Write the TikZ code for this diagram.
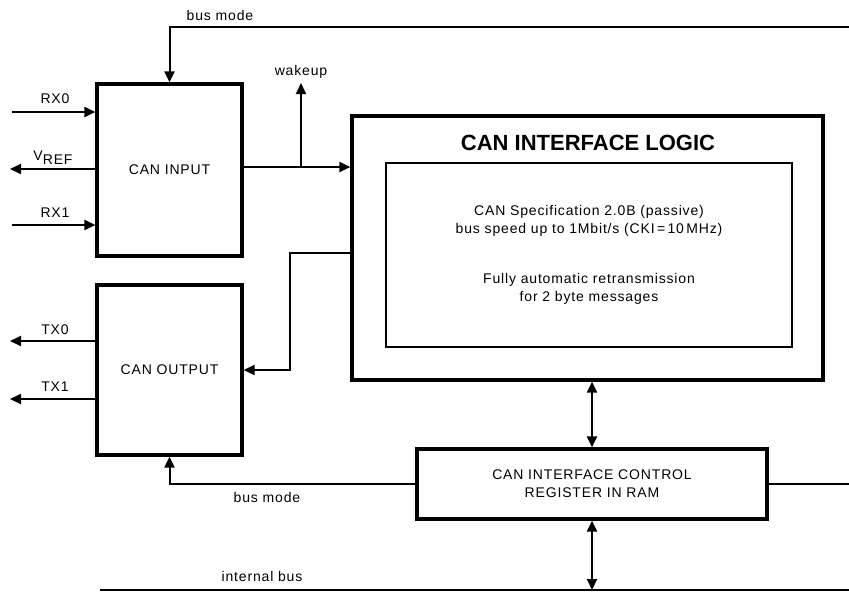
\documentclass[tikz,border=0pt]{standalone}
\usepackage{fontspec}
\setmainfont{Liberation Sans}[LetterSpace=6]
\newfontfamily\titlefont{Liberation Sans}
\usetikzlibrary{arrows.meta}

\begin{document}
\begin{tikzpicture}[x=1pt, y=-1pt, font=\fontsize{14}{18}\selectfont,
    block/.style={draw, line width=3.2pt, minimum width=#1, align=center},
    wire/.style={line width=2pt},
    sig/.style={wire, -{Triangle[length=11pt, width=10pt]}},
    bidir/.style={wire, {Triangle[length=11pt, width=10pt]}-{Triangle[length=11pt, width=10pt]}}]
    \useasboundingbox (0, 0) rectangle (849, 606);

    \node[block=145pt, minimum height=172pt] (canin) at (169.5, 170) {CAN INPUT};
    \node[block=145pt, minimum height=170pt] (canout) at (169.5, 370) {CAN OUTPUT};
    \node[block=471pt, minimum height=264pt] (logic) at (587.5, 248) {};
    \node[font=\titlefont\fontsize{22}{24}\selectfont\bfseries] (title) at (588, 143) {CAN INTERFACE LOGIC};
    \node[draw, line width=1.8pt, minimum width=406pt, minimum height=184pt, align=center] (spec) at (589, 255)
        {CAN Specification 2.0B (passive)\\bus speed up to 1Mbit/s (CKI\,=\,10\,MHz)\\[32pt]Fully automatic retransmission\\for 2 byte messages};
    \node[block=350pt, minimum height=70pt] (reg) at (592, 484) {CAN INTERFACE CONTROL\\REGISTER IN RAM};

    \coordinate (rx0) at (12, 112);
    \coordinate (vref) at (10, 169);
    \coordinate (rx1) at (12, 225);
    \coordinate (tx0) at (10, 341);
    \coordinate (tx1) at (10, 399);
    \coordinate (tap) at (301, 167);
    \coordinate (wake) at (301, 83);
    \coordinate (busin) at (849, 27);
    \coordinate (bend) at (290, 253);
    \coordinate (regout) at (849, 484);
    \coordinate (busl) at (100, 590);
    \coordinate (busr) at (849, 590);

    \draw[sig] (rx0) -- (canin.west |- rx0);
    \draw[sig] (canin.west |- vref) -- (vref);
    \draw[sig] (rx1) -- (canin.west |- rx1);
    \draw[sig] (canout.west |- tx0) -- (tx0);
    \draw[sig] (canout.west |- tx1) -- (tx1);
    \draw[sig] (canin.east |- tap) -- (logic.west |- tap);
    \draw[sig] (tap) -- (wake);
    \draw[sig] (busin) -| (canin.north);
    \draw[sig] (logic.west |- bend) -- (bend) |- (canout.east);
    \draw[sig] (reg.west) -| (canout.south);
    \draw[wire] (reg.east) -- (regout);
    \draw[line width=1.6pt] (busl) -- (busr);
    \draw[bidir] (reg.north |- logic.south) -- (reg.north);
    \draw[bidir] (reg.south) -- (reg.south |- busl);

    \node (rx0lbl) at (55, 99) {RX0};
    \node (vreflbl) at (53, 158) {V\raisebox{-4pt}{REF}};
    \node (rx1lbl) at (55, 213) {RX1};
    \node (tx0lbl) at (55, 330) {TX0};
    \node (tx1lbl) at (55, 387) {TX1};
    \node (wakelbl) at (301, 72) {wakeup};
    \node (busmodetop) at (220, 15) {bus mode};
    \node (busmodebot) at (267, 497) {bus mode};
    \node (internlbl) at (262, 576) {internal bus};
\end{tikzpicture}
\end{document}
